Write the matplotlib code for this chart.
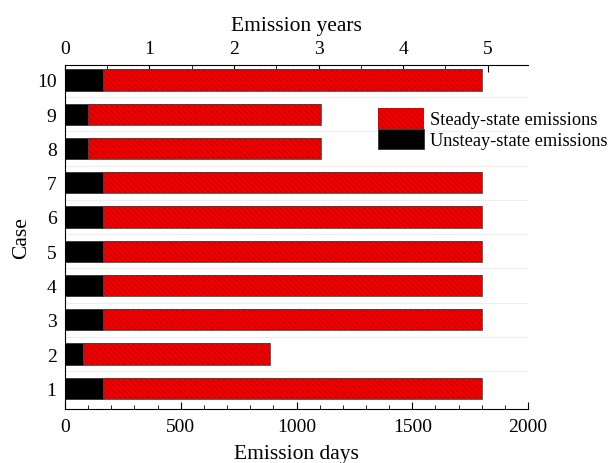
import matplotlib
matplotlib.use('Agg')
from matplotlib import pyplot as plt
from matplotlib.ticker import MultipleLocator
import numpy as np

# Define data.
cases = [1, 2, 3, 4, 5, 6, 7, 8, 9, 10]
unsteady_days = [163, 80, 163, 163, 163, 163, 163, 100, 100, 163]
total_days = [1800, 885, 1800, 1800, 1800, 1800, 1800, 1105, 1105, 1800]
steady_days = [t - u for t, u in zip(total_days, unsteady_days)]

plt.rcParams['font.family'] = ['Liberation Serif', 'DejaVu Serif']
plt.rcParams['hatch.linewidth'] = 0.45

fig = plt.figure(figsize=(6.12, 4.64), dpi=100)
ax = fig.add_axes([0.106, 0.116, 0.757, 0.742])

# Faint separators between bars.
for y in np.arange(1.5, 10.5, 1):
    ax.axhline(y, color='#eeeeee', linewidth=0.8, zorder=0)

# Make plot.
ax.barh(cases, unsteady_days, height=0.62, color='black', edgecolor='#333333',
        linewidth=0.6, label='Unsteay-state emissions', zorder=2)
ax.barh(cases, steady_days, left=unsteady_days, height=0.62, color='#ee0000',
        edgecolor='#b00000', hatch='\\\\\\\\\\\\', linewidth=0.0,
        label='Steady-state emissions', zorder=2)
# Dark outline around the steady-state part.
ax.barh(cases, steady_days, left=unsteady_days, height=0.62, fill=False,
        edgecolor='#444444', linewidth=0.6, zorder=3)

# Customize plot.
ax.set_xlim(0, 2000)
ax.set_ylim(0.39, 10.44)
ax.set_yticks(cases)
ax.xaxis.set_major_locator(MultipleLocator(500))
ax.xaxis.set_minor_locator(MultipleLocator(100))
ax.tick_params(axis='x', direction='in', length=5, labelsize=14, pad=6)
ax.tick_params(axis='x', which='minor', direction='in', length=3)
ax.tick_params(axis='y', length=0, labelsize=14, pad=6)
ax.spines['right'].set_visible(False)
ax.spines['top'].set_visible(False)
ax.set_xlabel('Emission days', fontsize=15.5, labelpad=7)
ax.set_ylabel('Case', fontsize=15.5, labelpad=4)

top = ax.secondary_xaxis('top', functions=(lambda d: d / 365.0, lambda y: y * 365.0))
top.xaxis.set_major_locator(MultipleLocator(1))
top.xaxis.set_minor_locator(MultipleLocator(0.5))
top.tick_params(axis='x', direction='in', length=5, labelsize=14, pad=6)
top.tick_params(axis='x', which='minor', direction='in', length=3)
top.set_xlabel('Emission years', fontsize=15.5, labelpad=7)

handles, labels = ax.get_legend_handles_labels()
fig.legend(handles[::-1], labels[::-1], loc='upper left',
           bbox_to_anchor=(0.606, 0.781), frameon=False, fontsize=13.2,
           handlelength=2.5, handleheight=1.35, handletextpad=0.3,
           labelspacing=0.02, borderaxespad=0)

plt.savefig('out.png', dpi=100)
